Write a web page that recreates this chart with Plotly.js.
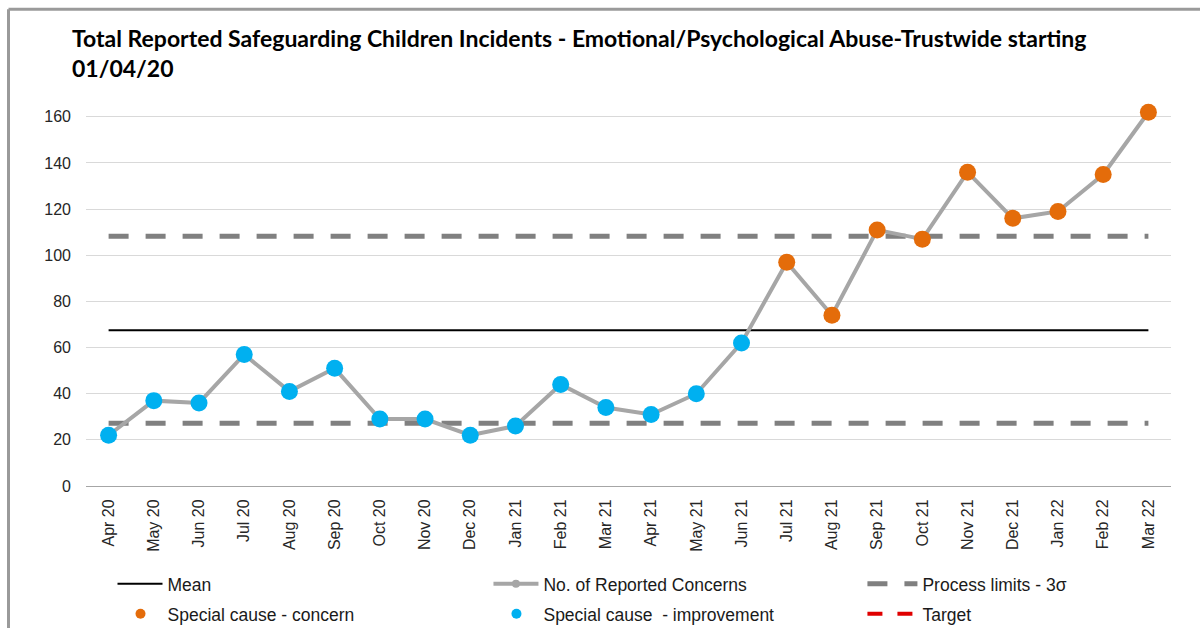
<!DOCTYPE html>
<html>
<head>
<meta charset="utf-8">
<script src="https://cdn.plot.ly/plotly-3.0.1.min.js"></script>
<style>
html,body{margin:0;padding:0;background:#fff;}
#chart{width:1200px;height:628px;}
</style>
</head>
<body>
<div id="chart"></div>
<script>
// ---- data ----
const months = ['Apr 20','May 20','Jun 20','Jul 20','Aug 20','Sep 20','Oct 20','Nov 20','Dec 20','Jan 21','Feb 21','Mar 21',
  'Apr 21','May 21','Jun 21','Jul 21','Aug 21','Sep 21','Oct 21','Nov 21','Dec 21','Jan 22','Feb 22','Mar 22'];
const concerns = [22,37,36,57,41,51,29,29,22,26,44,34,31,40,62,97,74,111,107,136,116,119,135,162];
const signal = ['imp','imp','imp','imp','imp','imp','imp','imp','imp','imp','imp','imp','imp','imp','imp',
  'con','con','con','con','con','con','con','con','con'];
const meanValue = 67.5;
const upperLimit = 108.3;
const lowerLimit = 27.2;
const yTicks = [0,20,40,60,80,100,120,140,160];

const meanLine = months.map(() => meanValue);
const uclLine = months.map(() => upperLimit);
const lclLine = months.map(() => lowerLimit);
const concernPts = concerns.map((v, i) => signal[i] === 'con' ? v : null);
const improvePts = concerns.map((v, i) => signal[i] === 'imp' ? v : null);

// ---- geometry helpers ----
const W = 1200, H = 628;
const plotL = 85.5, plotR = 1170.6, plotB = 486;
const yMax = 166;
const pxPerUnit = (486 - 116.7) / 160;
const plotT = plotB - yMax * pxPerUnit;
const px2x = p => (p - plotL) / (plotR - plotL);
const px2y = p => (plotB - p) / (plotB - plotT);

const legFont = {family: 'Liberation Sans, Arial, sans-serif', size: 17.5, color: '#1a1a1a'};
function leg(textX, midY, iw) {
  return {x: px2x(textX - iw - 10), xanchor: 'left', y: px2y(midY), yanchor: 'middle', itemwidth: iw,
    bgcolor: 'rgba(0,0,0,0)', borderwidth: 0, font: legFont, orientation: 'v'};
}

const grey = '#a6a6a6', blue = '#00b0f0', orange = '#e46c0a', limitGrey = '#808080';

const traces = [
  {x: months, y: meanLine, mode: 'lines', name: 'Mean', line: {color: '#000000', width: 2},
   legend: 'legend'},
  {x: months, y: uclLine, mode: 'lines', name: 'Process limits - 3σ', line: {color: limitGrey, width: 5, dash: '20px,17px'},
   legend: 'legend3', showlegend: true},
  {x: months, y: lclLine, mode: 'lines', name: 'LCL', line: {color: limitGrey, width: 5, dash: '20px,17px'},
   showlegend: false},
  {x: months, y: concerns, mode: 'lines+markers', name: 'No. of Reported Concerns',
   line: {color: grey, width: 4}, marker: {color: grey, size: 8}, legend: 'legend2', cliponaxis: false},
  {x: months, y: concernPts, mode: 'markers', name: 'concern', marker: {color: orange, size: 17},
   showlegend: false, cliponaxis: false},
  {x: months, y: improvePts, mode: 'markers', name: 'improvement', marker: {color: blue, size: 17},
   showlegend: false, cliponaxis: false},
  // legend-only entries
  {x: [null], y: [null], mode: 'markers', name: 'Special cause - concern', marker: {color: orange, size: 10}, legend: 'legend4'},
  {x: [null], y: [null], mode: 'markers', name: 'Special cause \u00a0- improvement', marker: {color: blue, size: 10}, legend: 'legend5'},
  {x: [null], y: [null], mode: 'lines', name: 'Target', line: {color: '#e00000', width: 4, dash: '15px,15px'}, legend: 'legend6'}
];

const layout = {
  width: W, height: H,
  margin: {l: plotL, r: W - plotR, t: plotT, b: H - plotB, pad: 0, autoexpand: false},
  paper_bgcolor: '#ffffff', plot_bgcolor: '#ffffff',
  font: {family: 'Liberation Sans, Arial, sans-serif', color: '#262626'},
  title: {
    text: 'Total Reported Safeguarding Children Incidents - Emotional/Psychological Abuse-Trustwide starting<br>01/04/20',
    font: {family: 'Lato, sans-serif', size: 23, color: '#000000', weight: 'bold'},
    x: 72 / W, xref: 'container', xanchor: 'left',
    y: 1 - 47 / H, yref: 'container', yanchor: 'top', pad: {t: 0, l: 0}
  },
  xaxis: {
    type: 'category', range: [-0.5, 23.5], tickangle: -90,
    showgrid: false, showline: true, linecolor: '#a6a6a6', linewidth: 1,
    ticks: '', ticklabelstandoff: 6,
    tickfont: {family: 'Liberation Sans, Arial, sans-serif', size: 16, color: '#262626'},
    fixedrange: true
  },
  yaxis: {
    range: [0, yMax], tickmode: 'array', tickvals: yTicks, ticktext: yTicks.map(String),
    showgrid: true, gridcolor: '#d9d9d9', gridwidth: 1, zeroline: false, showline: false,
    ticks: '', ticklabelstandoff: 14,
    tickfont: {family: 'Liberation Sans, Arial, sans-serif', size: 16, color: '#262626'},
    fixedrange: true
  },
  showlegend: true,
  legend: leg(167, 584, 45),
  legend2: leg(543, 584, 45),
  legend3: leg(922, 584, 50),
  legend4: leg(167, 614, 44),
  legend5: leg(543, 614, 44),
  legend6: leg(922, 614, 50),
  shapes: [
    {type: 'line', xref: 'paper', yref: 'paper', x0: px2x(8), x1: px2x(1200), y0: px2y(9), y1: px2y(9),
     line: {color: '#9a9a9a', width: 3}},
    {type: 'line', xref: 'paper', yref: 'paper', x0: px2x(8), x1: px2x(8), y0: px2y(9), y1: px2y(628),
     line: {color: '#9a9a9a', width: 3}}
  ]
};

Plotly.newPlot('chart', traces, layout, {displayModeBar: false, staticPlot: true});
</script>
</body>
</html>
